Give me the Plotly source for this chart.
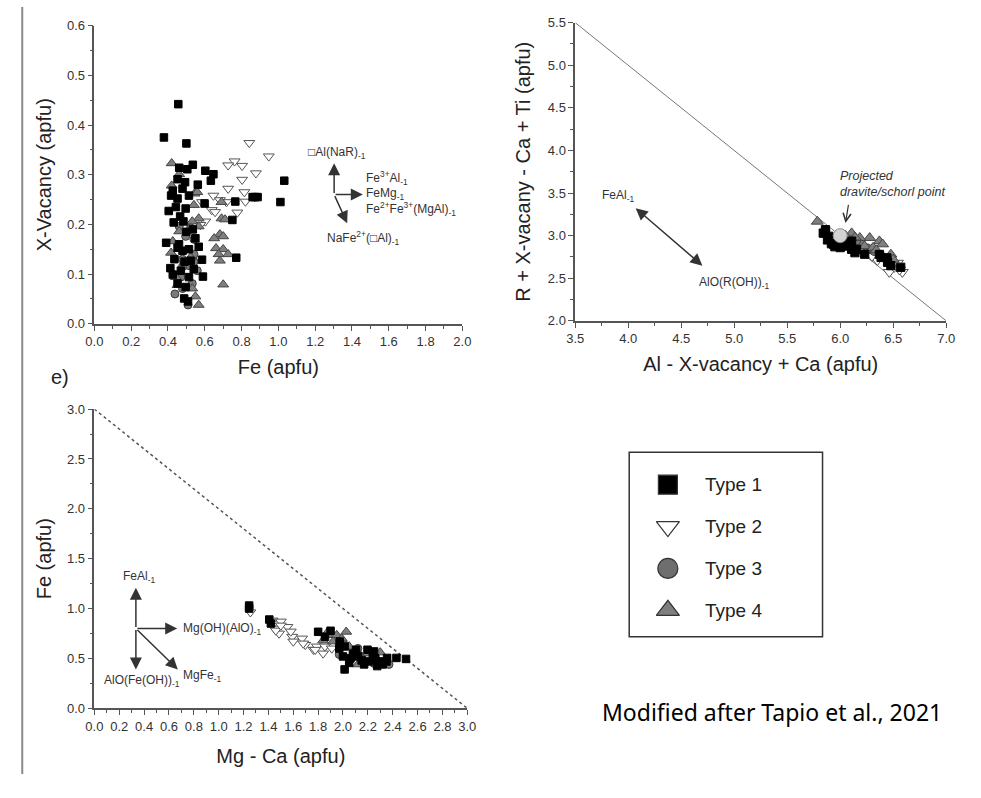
import plotly.graph_objects as go

# ---------------- Data ----------------
types = ["Type 1", "Type 2", "Type 3", "Type 4"]

# Panel (top-left): Fe vs X-vacancy
a_fe = {
    "Type 1": [0.456, 0.378, 0.50, 0.535, 0.461, 0.505, 0.603, 0.647, 0.633, 0.562, 0.493, 1.032, 1.011, 0.86, 0.873, 0.887,
               0.766, 0.599, 0.75, 0.771, 0.59, 0.417, 0.404, 0.431, 0.484, 0.39, 0.452, 0.479, 0.514, 0.567, 0.549, 0.585,
               0.523, 0.435, 0.413, 0.47, 0.514, 0.426, 0.452, 0.496, 0.488, 0.509, 0.479, 0.452, 0.443, 0.496, 0.466,
               0.452, 0.514, 0.426, 0.535, 0.50, 0.46, 0.54, 0.49],
    "Type 2": [0.842, 0.948, 0.762, 0.727, 0.803, 0.878, 0.803, 0.727, 0.815, 0.647, 0.682, 0.821, 0.718, 0.638, 0.656,
               0.777, 0.603, 0.576, 0.585],
    "Type 3": [0.496, 0.541, 0.514, 0.541, 0.479, 0.532, 0.479, 0.438, 0.509, 0.559, 0.47, 0.523, 0.461, 0.541, 0.479],
    "Type 4": [0.42, 0.461, 0.42, 0.544, 0.541, 0.691, 0.691, 0.567, 0.532, 0.461, 0.682, 0.70, 0.651, 0.661, 0.70, 0.727,
               0.682, 0.426, 0.417, 0.523, 0.443, 0.452, 0.532, 0.70, 0.549, 0.567, 0.559, 0.567, 0.71, 0.675],
}
a_xv = {
    "Type 1": [0.442, 0.375, 0.363, 0.320, 0.314, 0.311, 0.308, 0.301, 0.288, 0.280, 0.285, 0.288, 0.245, 0.255, 0.255, 0.255,
               0.246, 0.242, 0.209, 0.133, 0.095, 0.258, 0.227, 0.204, 0.206, 0.163, 0.153, 0.147, 0.150, 0.155, 0.172, 0.129,
               0.127, 0.130, 0.112, 0.107, 0.094, 0.099, 0.081, 0.074, 0.051, 0.045, 0.272, 0.252, 0.235, 0.232, 0.216,
               0.291, 0.258, 0.268, 0.190, 0.185, 0.160, 0.110, 0.125],
    "Type 2": [0.364, 0.337, 0.327, 0.319, 0.318, 0.303, 0.290, 0.272, 0.265, 0.258, 0.249, 0.246, 0.245, 0.229, 0.225,
               0.224, 0.206, 0.199, 0.245],
    "Type 3": [0.176, 0.140, 0.117, 0.125, 0.115, 0.081, 0.071, 0.060, 0.038, 0.107, 0.094, 0.193, 0.196, 0.170, 0.130],
    "Type 4": [0.323, 0.301, 0.278, 0.262, 0.239, 0.245, 0.212, 0.212, 0.206, 0.186, 0.180, 0.176, 0.172, 0.152, 0.150, 0.140,
               0.127, 0.166, 0.143, 0.134, 0.094, 0.078, 0.071, 0.079, 0.055, 0.038, 0.265, 0.196, 0.210, 0.140],
}

# Panel (top-right): Al - X-vacancy + Ca vs R + X-vacancy - Ca + Ti
b_al = {
    "Type 1": [5.861, 5.892, 5.938, 6.046, 6.108, 6.139, 6.478, 6.571, 6.386, 6.447, 6.231, 5.861, 5.917, 6.108, 6.154,
               6.37, 6.44, 5.88, 5.95, 6.0, 6.06, 5.84],
    "Type 2": [6.463, 6.586, 6.51, 6.54, 6.35, 6.44, 6.3, 6.56],
    "Type 3": [6.2, 6.32, 6.38, 6.15, 6.26, 6.45],
    "Type 4": [5.784, 6.37, 6.40, 6.278, 6.185, 6.108, 6.478, 6.23, 6.31, 6.05, 6.14, 6.34, 6.5],
}
b_r = {
    "Type 1": [3.07, 2.993, 2.898, 2.878, 2.84, 2.80, 2.648, 2.629, 2.745, 2.687, 2.782, 3.032, 2.906, 2.936, 2.84,
               2.78, 2.74, 2.95, 2.87, 2.86, 2.92, 3.03],
    "Type 2": [2.572, 2.572, 2.63, 2.68, 2.71, 2.70, 2.76, 2.60],
    "Type 3": [2.9, 2.82, 2.76, 2.94, 2.85, 2.72],
    "Type 4": [3.166, 2.936, 2.90, 2.975, 2.975, 3.03, 2.78, 2.878, 2.86, 3.0, 2.98, 2.83, 2.72],
}
b_line_x = [3.5, 7.0]
b_line_y = [5.5, 2.0]
proj_x = [6.0]
proj_y = [3.0]

# Panel (bottom-left): Mg - Ca vs Fe
c_mg = {
    "Type 1": [1.245, 1.245, 1.407, 1.80, 1.90, 1.973, 2.013, 2.0, 2.013, 2.105, 2.197, 2.24, 2.17, 2.275, 2.355, 2.43,
               2.507, 2.05, 2.21, 2.29, 2.12, 2.08, 1.855, 1.97, 2.25, 2.32, 2.15, 2.35, 2.26, 2.06, 1.42],
    "Type 2": [1.255, 1.434, 1.47, 1.553, 1.45, 1.486, 1.46, 1.592, 1.671, 1.60, 1.697, 1.763, 1.79, 1.855, 1.84, 1.58,
               1.5, 1.776, 1.91, 1.68, 1.5],
    "Type 3": [1.97, 2.37, 2.17, 2.07, 2.25, 2.12],
    "Type 4": [1.88, 1.95, 2.026, 1.92, 1.99, 2.1, 2.15, 2.22, 2.30, 2.12, 1.84, 1.88, 1.99, 2.13, 2.2, 2.05],
}
c_fe = {
    "Type 1": [1.03, 1.0, 0.89, 0.767, 0.777, 0.669, 0.62, 0.52, 0.39, 0.587, 0.587, 0.52, 0.44, 0.423, 0.505, 0.505,
               0.495, 0.455, 0.47, 0.47, 0.52, 0.55, 0.718, 0.6, 0.57, 0.44, 0.48, 0.47, 0.5, 0.5, 0.85],
    "Type 2": [0.963, 0.88, 0.85, 0.816, 0.8, 0.75, 0.78, 0.718, 0.70, 0.67, 0.636, 0.587, 0.62, 0.62, 0.55, 0.77,
               0.87, 0.587, 0.6, 0.65, 0.83],
    "Type 3": [0.54, 0.44, 0.47, 0.51, 0.45, 0.6],
    "Type 4": [0.734, 0.734, 0.767, 0.67, 0.69, 0.55, 0.52, 0.57, 0.56, 0.44, 0.68, 0.77, 0.70, 0.54, 0.55, 0.62],
}
c_line_x = [0.0, 3.0]
c_line_y = [3.0, 0.0]

# Substitution vectors (origin, tips)
a_vec_origin = (1.303, 0.26)
a_vec_tips = [(1.303, 0.323), (1.459, 0.26), (1.374, 0.2026)]
b_vec = [(4.056, 3.338), (4.70, 2.648)]
c_vec_origin = (0.334, 0.80)
c_vec_tips = [(0.334, 1.21), (0.334, 0.39), (0.666, 0.80), (0.671, 0.39)]

# ---------------- Styles ----------------
FONT = "Liberation Sans, Arial, sans-serif"
style = {
    "Type 1": dict(symbol="square", color="#000000", line=dict(color="#000000", width=1)),
    "Type 2": dict(symbol="triangle-down", color="#ffffff", line=dict(color="#555555", width=1)),
    "Type 3": dict(symbol="circle", color="#7a7a7a", line=dict(color="#3a3a3a", width=1)),
    "Type 4": dict(symbol="triangle-up", color="#7f7f7f", line=dict(color="#444444", width=1)),
}
msize = {"Type 1": 7.5, "Type 2": 9.5, "Type 3": 8, "Type 4": 9.5}
draw_order = ["Type 2", "Type 3", "Type 4", "Type 1"]

# page is 981x798; the page body keeps its default 8px margin, so the figure is 16px smaller
OFF = 8
W, H = 981 - 2 * OFF, 798 - 2 * OFF
def px(x):
    return (x - OFF) / W
def py(y):
    return 1 - (y - OFF) / H

fig = go.Figure()

def add_scatter(xd, yd, xa, ya, scale=1.0):
    for t in draw_order:
        s = style[t]
        fig.add_trace(go.Scatter(
            x=xd[t], y=yd[t], mode="markers", name=t, xaxis=xa, yaxis=ya, showlegend=False,
            marker=dict(symbol=s["symbol"], color=s["color"], line=s["line"], size=msize[t] * scale),
        ))

add_scatter(a_fe, a_xv, "x", "y")
fig.add_trace(go.Scatter(x=b_line_x, y=b_line_y, mode="lines", xaxis="x2", yaxis="y2",
                         line=dict(color="#777777", width=1), showlegend=False))
add_scatter(b_al, b_r, "x2", "y2", 1.1)
fig.add_trace(go.Scatter(x=proj_x, y=proj_y, mode="markers", xaxis="x2", yaxis="y2", showlegend=False,
                         marker=dict(symbol="circle", size=14, color="#d3d3d3", line=dict(color="#8a8a8a", width=1))))
fig.add_trace(go.Scatter(x=c_line_x, y=c_line_y, mode="lines", xaxis="x3", yaxis="y3",
                         line=dict(color="#555555", width=1.5, dash="dot"), showlegend=False))
add_scatter(c_mg, c_fe, "x3", "y3")

# manual legend
for t in types:
    s = style[t]
    fig.add_trace(go.Scatter(
        x=[0], y=[t], mode="markers", xaxis="x4", yaxis="y4", showlegend=False,
        marker=dict(symbol=s["symbol"], color=s["color"] if t != "Type 3" else "#6e6e6e",
                    line=dict(color="#333333", width=1.2), size=20 if t != "Type 1" else 19),
    ))

def axis(rng, dtick, mdtick, fmt, title, standoff, domain, anchor):
    return dict(
        range=rng, domain=domain, anchor=anchor, tick0=0, dtick=dtick, tickformat=fmt,
        ticks="outside", ticklen=5, tickwidth=1.3, tickcolor="#555555",
        showline=True, linecolor="#555555", linewidth=1.5,
        showgrid=False, zeroline=False,
        minor=dict(dtick=mdtick, ticks="outside", ticklen=3, tickwidth=1.1, tickcolor="#555555", showgrid=False),
        tickfont=dict(family=FONT, size=13, color="#333333"),
        title=dict(text=title, font=dict(family=FONT, size=20, color="#222222"), standoff=standoff),
    )

d1x = [px(95), px(470)]; d1y = [py(331), py(27)]
d2x = [px(585), px(963)]; d2y = [py(328), py(24)]
d3x = [px(95), px(475)]; d3y = [py(723), py(418)]

annotations = []
def arrow(tip, origin, xr, yr, both=False):
    d = dict(x=tip[0], y=tip[1], ax=origin[0], ay=origin[1], xref=xr, yref=yr, axref=xr, ayref=yr,
             text="", showarrow=True, arrowhead=2, arrowsize=1.6, arrowwidth=1.5, arrowcolor="#333333", standoff=0)
    if both:
        d.update(arrowside="end+start", startarrowhead=2, startarrowsize=1.6)
    return d

for tip in a_vec_tips:
    annotations.append(arrow(tip, a_vec_origin, "x", "y"))
annotations.append(arrow(b_vec[1], b_vec[0], "x2", "y2", both=True))
for tip in c_vec_tips:
    annotations.append(arrow(tip, c_vec_origin, "x3", "y3"))

def label(x, y, text, xr, yr, xanchor="center", size=12, italic=False):
    return dict(x=x, y=y, xref=xr, yref=yr, text=text, showarrow=False, xanchor=xanchor, yanchor="middle",
                align="left",
                font=dict(family=FONT, size=size, color="#333333", style="italic" if italic else "normal"))

annotations += [
    label(1.32, 0.344, "□Al(NaR)<sub>-1</sub>", "x", "y"),
    label(1.463, 0.293, "Fe<sup>3+</sup>Al<sub>-1</sub>", "x", "y", "left"),
    label(1.463, 0.262, "FeMg<sub>-1</sub>", "x", "y", "left"),
    label(1.463, 0.232, "Fe<sup>2+</sup>Fe<sup>3+</sup>(MgAl)<sub>-1</sub>", "x", "y", "left"),
    label(1.463, 0.173, "NaFe<sup>2+</sup>(□Al)<sub>-1</sub>", "x", "y"),
    label(3.90, 3.47, "FeAl<sub>-1</sub>", "x2", "y2"),
    label(5.00, 2.44, "AlO(R(OH))<sub>-1</sub>", "x2", "y2"),
    label(5.979, 3.605, "Projected<br>dravite/schorl point", "x2", "y2", "left", 12.5, True),
    label(0.355, 1.32, "FeAl<sub>-1</sub>", "x3", "y3"),
    label(0.70, 0.80, "Mg(OH)(AlO)<sub>-1</sub>", "x3", "y3", "left"),
    label(0.38, 0.275, "AlO(Fe(OH))<sub>-1</sub>", "x3", "y3"),
    label(0.70, 0.325, "MgFe<sub>-1</sub>", "x3", "y3", "left"),
]
# open arrow to projected point
annotations.append(dict(x=6.05, y=3.15, ax=6.08, ay=3.38, xref="x2", yref="y2", axref="x2", ayref="y2",
                        text="", showarrow=True, arrowhead=5, arrowsize=1.3, arrowwidth=1.2,
                        arrowcolor="#333333", standoff=0))
# legend labels
for t in types:
    annotations.append(dict(x=0, y=t, xref="x4", yref="y4", text=t, showarrow=False, xanchor="left",
                            yanchor="middle", xshift=35, font=dict(family=FONT, size=19, color="#222222")))
annotations.append(dict(x=px(60), y=py(385), xref="paper", yref="paper", text="e)", showarrow=False,
                        xanchor="center", yanchor="middle",
                        font=dict(family=FONT, size=20, color="#222222")))
annotations.append(dict(x=px(785), y=py(727), xref="paper", yref="paper", text="Modified after Tapio et al., 2021",
                        showarrow=False, xanchor="center", yanchor="middle",
                        font=dict(family="Noto Sans, sans-serif", size=23, color="#000000")))

fig.update_layout(
    width=W, height=H, margin=dict(l=0, r=0, t=0, b=0),
    plot_bgcolor="white", paper_bgcolor="white", showlegend=False,
    font=dict(family=FONT),
    xaxis=axis([0, 2.0], 0.2, 0.1, ".1f", "Fe (apfu)", 12, d1x, "y"),
    yaxis=axis([0, 0.6], 0.1, 0.05, ".1f", "X-Vacancy (apfu)", 10, d1y, "x"),
    xaxis2=axis([3.5, 7.0], 0.5, 0.25, ".1f", "Al - X-vacancy + Ca (apfu)", 12, d2x, "y2"),
    yaxis2=axis([2.0, 5.5], 0.5, 0.25, ".1f", "R + X-vacany - Ca + Ti (apfu)", 12, d2y, "x2"),
    xaxis3=axis([0, 3.0], 0.2, 0.1, ".1f", "Mg - Ca (apfu)", 16, d3x, "y3"),
    yaxis3=axis([0, 3.0], 0.5, 0.25, ".1f", "Fe (apfu)", 10, d3y, "x3"),
    xaxis4=dict(domain=[px(640), px(837)], range=[-0.2, 0.8], visible=False, anchor="y4", fixedrange=True),
    yaxis4=dict(domain=[py(650), py(462)], range=[3.63, -0.773], visible=False, anchor="x4",
                type="category", categoryorder="array", categoryarray=types, fixedrange=True),
    annotations=annotations,
    shapes=[
        dict(type="rect", xref="paper", yref="paper", x0=px(640), x1=px(837), y0=py(650), y1=py(462),
             line=dict(color="#333333", width=1.5)),
        dict(type="line", xref="paper", yref="paper", x0=px(21.5), x1=px(21.5), y0=py(8), y1=0,
             line=dict(color="#8a8a8a", width=2)),
    ],
)

fig.write_html("out.html")
